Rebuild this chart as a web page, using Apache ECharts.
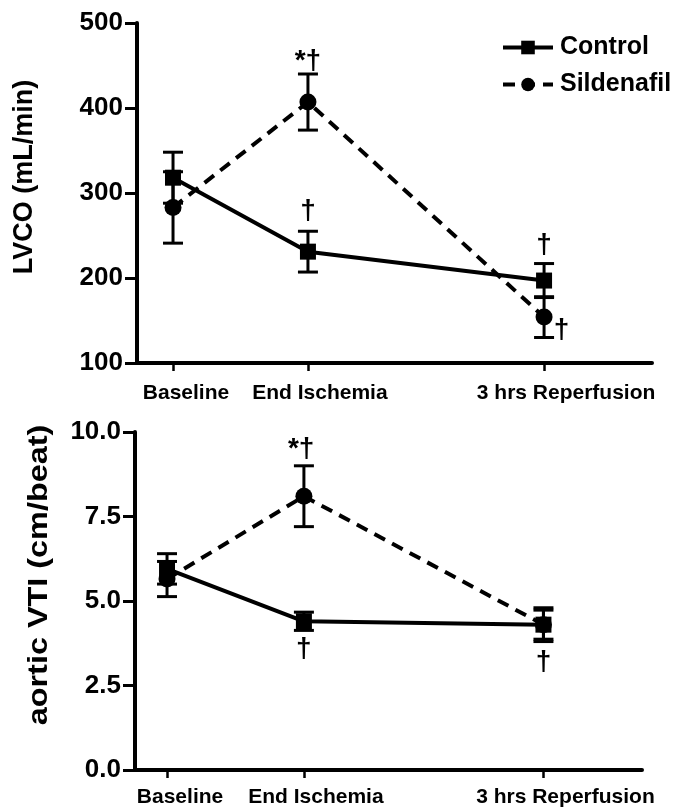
<!DOCTYPE html>
<html><head><meta charset="utf-8">
<script src="https://cdn.jsdelivr.net/npm/echarts@6/dist/echarts.min.js"></script>
<style>html,body{margin:0;padding:0;background:#fff}#c{width:675px;height:808px}</style>
</head><body><div id="c"></div>
<script>
// ---- data ----
const timepoints = ['Baseline', 'End Ischemia', '3 hrs Reperfusion'];
const timeX = [0, 1, 2.75];
const seriesNames = ['Control', 'Sildenafil'];

const lvcoControl = [318, 231, 197];
const lvcoControlSem = [30, 24, 20];
const lvcoSild = [283, 407, 154];
const lvcoSildSem = [42, 33, 24];
const lvcoTicks = [100, 200, 300, 400, 500];

const vtiControl = [5.95, 4.4, 4.3];
const vtiControlSem = [0.45, 0.27, 0.43];
const vtiSild = [5.65, 8.1, 4.3];
const vtiSildSem = [0.52, 0.9, 0.5];
const vtiTicks = [0, 2.5, 5, 7.5, 10];

// significance marks: [x position, y value, text]
const lvcoMarks = [[1, 455, '*†'], [1, 279, '†'], [2.75, 238, '†'], [2.88, 139, '†']];
const vtiMarks = [[0.98, 9.5, '*†'], [1, 3.56, '†'], [2.75, 3.2, '†']];

const yTitles = ['LVCO (mL/min)', 'aortic VTI (cm/beat)'];

// ---- chart ----
const FONT = "'Liberation Sans', Arial, sans-serif";
const chart = echarts.init(document.getElementById('c'), null, {renderer: 'canvas'});

function pts(means) { return means.map((m, i) => [timeX[i], m]); }
function errData(means, sems) { return means.map((m, i) => [timeX[i], m, sems[i]]); }

function errSeries(means, sems, gi) {
  return {
    type: 'custom', xAxisIndex: gi, yAxisIndex: gi, z: 3,
    encode: {x: 0, y: 1},
    data: errData(means, sems),
    renderItem: function (params, api) {
      const x = api.value(0), y = api.value(1), e = api.value(2);
      const hi = api.coord([x, y + e]);
      const lo = api.coord([x, y - e]);
      const cw = 10;
      const st = {stroke: '#000', lineWidth: 3};
      return {type: 'group', children: [
        {type: 'line', shape: {x1: hi[0], y1: hi[1], x2: lo[0], y2: lo[1]}, style: st},
        {type: 'line', shape: {x1: hi[0] - cw, y1: hi[1], x2: hi[0] + cw, y2: hi[1]}, style: st},
        {type: 'line', shape: {x1: lo[0] - cw, y1: lo[1], x2: lo[0] + cw, y2: lo[1]}, style: st}
      ]};
    }
  };
}

function markSeries(marks, gi) {
  return {
    type: 'custom', xAxisIndex: gi, yAxisIndex: gi, z: 5,
    encode: {x: 0, y: 1},
    data: marks,
    renderItem: function (params, api) {
      const p = api.coord([api.value(0), api.value(1)]);
      return {type: 'text', x: p[0], y: p[1], style: {
        text: marks[params.dataIndex][2], font: 'bold 28px ' + FONT,
        fill: '#000', align: 'center', verticalAlign: 'middle'
      }};
    }
  };
}

function lineSeries(name, means, gi, dashed) {
  return {
    name: name, type: 'line', xAxisIndex: gi, yAxisIndex: gi, z: 4,
    data: pts(means),
    symbol: dashed ? 'circle' : 'rect',
    symbolSize: dashed ? 17 : 16,
    itemStyle: {color: '#000'},
    lineStyle: {color: '#000', width: 4, type: dashed ? [12, 8] : 'solid'},
    animation: false
  };
}

// label shift to the right of the tick (the reference sets labels slightly right of ticks)
const labelRich = {
  l0: {padding: [0, 0, 0, 26]},
  l1: {padding: [0, 0, 0, 24]},
  l2: {padding: [0, 0, 0, 44]}
};

function xAxis(gi, min, max) {
  return {
    type: 'value', gridIndex: gi, min: min, max: max,
    splitLine: {show: false},
    axisLine: {show: true, onZero: false, lineStyle: {color: '#000', width: 4, cap: 'round'}},
    axisTick: {show: true, customValues: timeX, length: 8, lineStyle: {color: '#000', width: 2.5}},
    axisLabel: {
      customValues: timeX, margin: gi === 0 ? 20 : 17,
      color: '#000', fontFamily: FONT, fontWeight: 'bold', fontSize: 21,
      rich: labelRich,
      formatter: function (v) {
        const i = timeX.indexOf(v);
        return i >= 0 ? '{l' + i + '|' + timepoints[i] + '}' : '';
      }
    }
  };
}

function yAxis(gi, ticks, digits) {
  return {
    type: 'value', gridIndex: gi,
    min: ticks[0], max: ticks[ticks.length - 1], interval: ticks[1] - ticks[0],
    splitLine: {show: false},
    axisLine: {show: true, onZero: false, lineStyle: {color: '#000', width: 4}},
    axisTick: {show: true, length: 12, lineStyle: {color: '#000', width: 3}},
    axisLabel: {
      margin: 14, color: '#000', fontFamily: FONT, fontWeight: 'bold', fontSize: 26,
      formatter: function (v) { return v.toFixed(digits); }
    }
  };
}

chart.setOption({
  animation: false,
  backgroundColor: '#fff',
  grid: [
    {left: 137, top: 23, width: 515, height: 340},
    {left: 135, top: 432, width: 507, height: 338}
  ],
  xAxis: [xAxis(0, -0.267, 3.55), xAxis(1, -0.234, 3.47)],
  yAxis: [yAxis(0, lvcoTicks, 0), yAxis(1, vtiTicks, 1)],
  legend: {
    orient: 'vertical', left: 496, top: 30, itemGap: 12,
    itemWidth: 50, itemHeight: 17,
    data: seriesNames,
    lineStyle: {width: 4},
    textStyle: {color: '#000', fontFamily: FONT, fontWeight: 'bold', fontSize: 25, padding: [0, 0, 0, 2]}
  },
  graphic: [
    {type: 'text', x: 25, y: 177, rotation: Math.PI / 2,
     style: {text: yTitles[0], font: 'bold 27px ' + FONT, fill: '#000', align: 'center', verticalAlign: 'middle'}},
    {type: 'text', x: 40, y: 575, rotation: Math.PI / 2, scaleX: 1.2,
     style: {text: yTitles[1], font: 'bold 27px ' + FONT, fill: '#000', align: 'center', verticalAlign: 'middle'}}
  ],
  series: [
    errSeries(lvcoControl, lvcoControlSem, 0),
    errSeries(lvcoSild, lvcoSildSem, 0),
    lineSeries(seriesNames[0], lvcoControl, 0, false),
    lineSeries(seriesNames[1], lvcoSild, 0, true),
    markSeries(lvcoMarks, 0),
    errSeries(vtiControl, vtiControlSem, 1),
    errSeries(vtiSild, vtiSildSem, 1),
    lineSeries(seriesNames[0], vtiControl, 1, false),
    lineSeries(seriesNames[1], vtiSild, 1, true),
    markSeries(vtiMarks, 1)
  ]
});
</script>
</body></html>
